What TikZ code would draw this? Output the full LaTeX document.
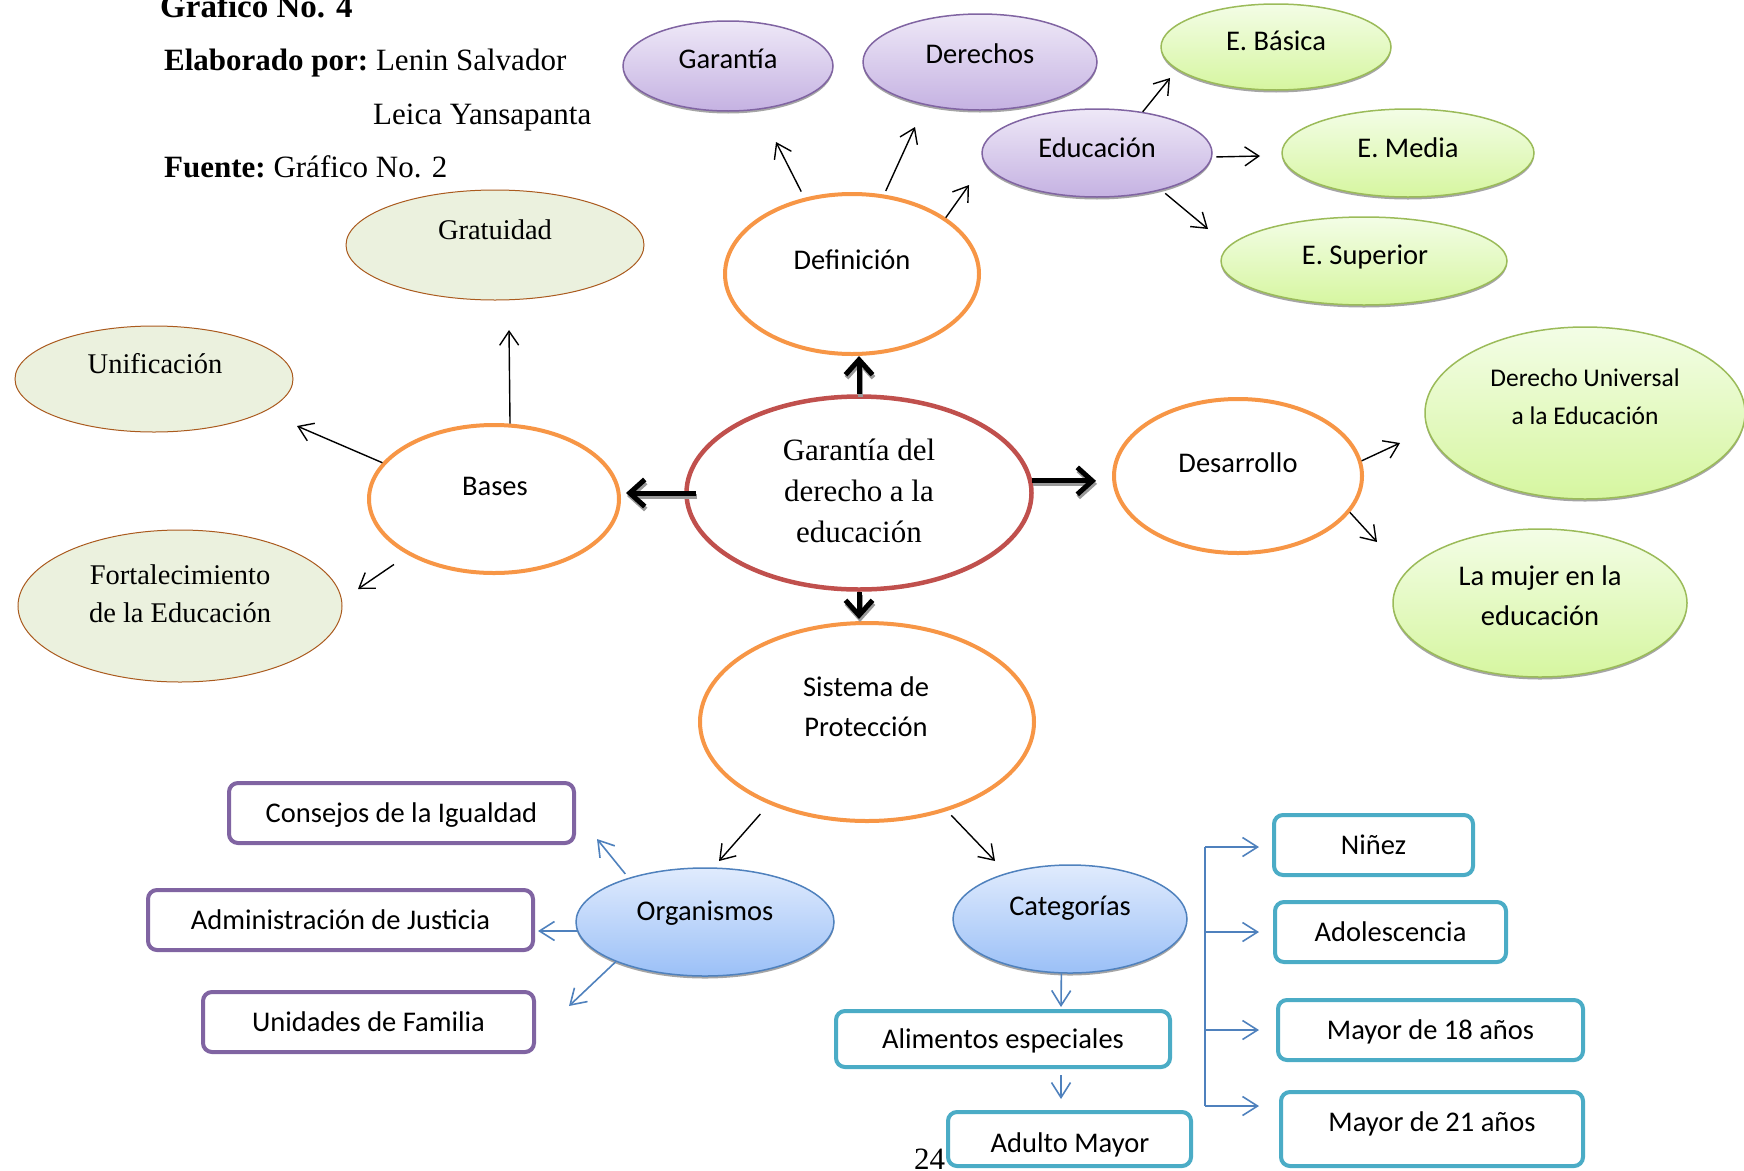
\documentclass[tikz,border=0pt]{standalone}
\usepackage{fontspec}
\setmainfont{Liberation Serif}
\newfontfamily\calfont{Carlito}
\usetikzlibrary{shapes.geometric,arrows.meta,shadows,calc}
\definecolor{orng}{RGB}{247,150,70}
\definecolor{redb}{RGB}{192,80,77}
\definecolor{purb}{RGB}{128,100,162}
\definecolor{greenb}{RGB}{155,187,89}
\definecolor{blueb}{RGB}{79,129,189}
\definecolor{tealb}{RGB}{75,172,198}
\definecolor{brownb}{RGB}{170,90,30}
\definecolor{lgfill}{RGB}{235,241,222}
\definecolor{purtop}{RGB}{238,232,247}
\definecolor{purbot}{RGB}{197,178,226}
\definecolor{grtop}{RGB}{243,253,230}
\definecolor{grbot}{RGB}{214,246,160}
\definecolor{bltop}{RGB}{224,235,253}
\definecolor{blbot}{RGB}{155,192,247}
\begin{document}
\begin{tikzpicture}[x=1pt,y=-1pt,
  ell/.style={ellipse,inner sep=0pt},
  shad/.style={drop shadow={shadow xshift=0pt,shadow yshift=-2.5pt,opacity=0.5,fill=black!70}},
  purell/.style={ell,draw=purb,line width=1.5pt,top color=purtop,bottom color=purbot,shad},
  grell/.style={ell,draw=greenb,line width=1.5pt,top color=grtop,bottom color=grbot,shad},
  blell/.style={ell,draw=blueb,line width=1.5pt,top color=bltop,bottom color=blbot,shad},
  lgell/.style={ell,draw=brownb,line width=1pt,fill=lgfill},
  orell/.style={ell,draw=orng,line width=4pt,fill=white},
  redell/.style={ell,draw=redb,line width=4.5pt,fill=white},
  lbl/.style={inner sep=0pt,align=center,text height=21pt,text depth=3pt},
  clbl/.style={lbl,font=\calfont\fontsize{28.5}{40}\selectfont},
  tlbl/.style={lbl,font=\fontsize{28.5}{38}\selectfont},
  rbox/.style={rectangle,rounded corners=9pt,line width=4pt,fill=white,inner sep=0pt,
    font=\calfont\fontsize{28.5}{34}\selectfont,text height=21pt,text depth=3pt},
  pbox/.style={rbox,draw=purb},
  tbox/.style={rbox,draw=tealb},
  arr/.style={draw=black,line width=1.4pt,-{Straight Barb[length=14pt,width=19pt]}},
  barr/.style={draw=blueb,line width=1.6pt,-{Straight Barb[length=15pt,width=19pt]}},
  thk/.style={draw=black,line width=5pt,-{Straight Barb[length=15pt,width=27pt]}},
  thksh/.style={draw=black!40,line width=5pt,-{Straight Barb[length=15pt,width=27pt]},
    transform canvas={shift={(1pt,-3pt)}}}
]
\path[use as bounding box] (0,0) rectangle (1744,1170);
\clip (0,0) rectangle (1744,1170);

% header
\node[anchor=base west,inner sep=0pt,font=\bfseries\fontsize{33}{33}\selectfont] (gno) at (160,17) {Gráfico No. 4};
\node[anchor=base west,inner sep=0pt,font=\fontsize{31}{31}\selectfont] (elab) at (164,70) {\textbf{Elaborado por:}~Lenin Salvador};
\node[anchor=base west,inner sep=0pt,font=\fontsize{31}{31}\selectfont] (leica) at (373,124) {Leica Yansapanta};
\node[anchor=base west,inner sep=0pt,font=\fontsize{31}{31}\selectfont] (fuente) at (164,177) {\textbf{Fuente:}~Gráfico No. 2};

% ellipses
\node[purell,minimum width=210pt,minimum height=90pt] (gar) at (728,66) {};
\node[purell,minimum width=234pt,minimum height=96pt] (der) at (980,62) {};
\node[grell,minimum width=230pt,minimum height=86pt] (eba) at (1276,47) {};
\node[purell,minimum width=230pt,minimum height=88pt] (edu) at (1097,153) {};
\node[grell,minimum width=252pt,minimum height=88pt] (eme) at (1408,153) {};
\node[grell,minimum width=286pt,minimum height=88pt] (esu) at (1364,261) {};
\node[orell,minimum width=254pt,minimum height=160pt] (def) at (852,274) {};
\node[lgell,minimum width=298pt,minimum height=110pt] (grat) at (495,245) {};
\node[lgell,minimum width=278pt,minimum height=106pt] (unif) at (154,379) {};
\node[orell,minimum width=250pt,minimum height=148pt] (bases) at (494,499) {};
\node[lgell,minimum width=324pt,minimum height=152pt] (fort) at (180,606) {};
\node[redell,minimum width=345pt,minimum height=193pt] (gd) at (859,493) {};
\node[orell,minimum width=248pt,minimum height=154pt] (des) at (1238,476) {};
\node[grell,minimum width=320pt,minimum height=172pt] (du) at (1585,413) {};
\node[grell,minimum width=294pt,minimum height=148pt] (muj) at (1540,603) {};
\node[orell,minimum width=334pt,minimum height=198pt] (sis) at (867,722) {};
\node[blell,minimum width=258pt,minimum height=108pt] (org) at (705,922) {};
\node[blell,minimum width=234pt,minimum height=108pt] (cat) at (1070,919) {};

% ellipse texts (multi-line nodes are placed at their last line)
\node[clbl] (gar-t) at (728,59) {Garantía};
\node[clbl] (der-t) at (980,54) {Derechos};
\node[clbl] (eba-t) at (1276,41) {E. Básica};
\node[clbl] (edu-t) at (1097,148) {Educación};
\node[clbl] (eme-t) at (1408,148) {E. Media};
\node[clbl] (esu-t) at (1365,255) {E. Superior};
\node[clbl] (def-t) at (852,260) {Definición};
\node[tlbl] (grat-t) at (495,230) {Gratuidad};
\node[tlbl] (unif-t) at (155,364) {Unificación};
\node[clbl] (bases-t) at (495,486) {Bases};
\node[tlbl] (fort-t) at (180,613) {Fortalecimiento\\de la Educación};
\node[lbl,font=\fontsize{31}{41}\selectfont,text height=23pt,text depth=3pt] (gd-t) at (859,532) {Garantía del\\derecho a la\\educación};
\node[clbl] (des-t) at (1238,463) {Desarrollo};
\node[lbl,font=\calfont\fontsize{25.5}{37.5}\selectfont,text height=19pt,text depth=3pt] (du-t) at (1585,416) {Derecho Universal\\a la Educación};
\node[clbl] (muj-t) at (1540,616) {La mujer en la\\educación};
\node[clbl] (sis-t) at (866,727) {Sistema de\\Protección};
\node[clbl] (org-t) at (705,911) {Organismos};
\node[clbl] (cat-t) at (1070,906) {Categorías};

% boxes
\node[pbox,minimum width=345pt,minimum height=60pt] (con) at (401.5,813) {Consejos de la Igualdad};
\node[pbox,minimum width=385pt,minimum height=60pt] (adm) at (340.5,920) {Administración de Justicia};
\node[pbox,minimum width=331pt,minimum height=60pt] (uni) at (368.5,1022) {Unidades de Familia};
\node[tbox,minimum width=334pt,minimum height=56pt] (ali) at (1003,1039) {Alimentos especiales};
\node[anchor=base west,inner sep=0pt,font=\fontsize{31}{31}\selectfont] (pg) at (914,1169) {24};
\node[tbox,minimum width=243pt,minimum height=54pt] (adu) at (1069.5,1139) {};
\node[clbl] (adu-t) at (1070,1143) {Adulto Mayor};
\node[tbox,minimum width=199pt,minimum height=60pt] (nin) at (1373.5,845) {Niñez};
\node[tbox,minimum width=231pt,minimum height=60pt] (ado) at (1390.5,932) {Adolescencia};
\node[tbox,minimum width=305pt,minimum height=60pt] (m18) at (1430.5,1030) {Mayor de 18 años};
\node[tbox,minimum width=302pt,minimum height=74pt] (m21) at (1432,1129) {};
\node[clbl] (m21-t) at (1432,1122) {Mayor de 21 años};

% arrow tip coordinates
\coordinate (tgar) at (776,142);
\coordinate (tder) at (915,127);
\coordinate (tedu) at (969,185);
\coordinate (teba) at (1170,78);
\coordinate (teme) at (1260,156);
\coordinate (tesu) at (1208,229);
\coordinate (tgrat) at (509,330);
\coordinate (tunif) at (297,426);
\coordinate (tfort) at (358,589);
\coordinate (tdu) at (1400,443);
\coordinate (tmuj) at (1377,542);
\coordinate (torg) at (719,861);
\coordinate (tcat) at (995,861);
\coordinate (tcon) at (597,839);
\coordinate (tadm) at (538,931);
\coordinate (tuni) at (569,1006);
\coordinate (tali) at (1061,1007);
\coordinate (tadu) at (1061,1099);
\coordinate (brtop) at (1205,847);
\coordinate (brbot) at (1205,1106);
\coordinate (t21) at (1259,1106);

% thin black arrows
\draw[arr,shorten <=7pt] (def.122) -- (tgar);
\draw[arr,shorten <=4pt] (def.68) -- (tder);
\draw[arr] (def.31) -- (tedu);
\draw[arr] (edu.42) -- (teba);
\draw[arr,shorten <=4pt] (edu.-2) -- (teme);
\draw[arr,shorten <=5pt] (edu.-30) -- (tesu);
\draw[arr] (bases.78) -- (tgrat);
\draw[arr] (bases.162) -- (tunif);
\draw[arr,shorten <=17pt] (bases.-147) -- (tfort);
\draw[arr] (des.7) -- (tdu);
\draw[arr] (des.-18) -- (tmuj);
\draw[arr,shorten <=13pt] (sis.-140) -- (torg);
\draw[arr,shorten <=6pt] (sis.-48) -- (tcat);

% thick arrows
\draw[thksh] (gd.north) -- (gd.north |- def.south);
\draw[thk] (gd.north) -- (gd.north |- def.south);
\draw[thksh,shorten <=-12pt,shorten >=5pt] (gd.west) -- (gd.west -| bases.east);
\draw[thk,shorten <=-12pt,shorten >=5pt] (gd.west) -- (gd.west -| bases.east);
\draw[thksh,shorten >=16pt] (gd.4) -- (gd.4 -| des.west);
\draw[thk,shorten >=16pt] (gd.4) -- (gd.4 -| des.west);
\draw[thksh,shorten >=2pt] (gd.south) -- (gd.south |- sis.north);
\draw[thk,shorten >=2pt] (gd.south) -- (gd.south |- sis.north);

% blue arrows
\draw[barr,shorten <=5pt] (org.150) -- (tcon);
\draw[barr] (org.-176) -- (tadm);
\draw[barr] (org.-156) -- (tuni);
\draw[barr] (cat.-99) -- (tali);
\draw[barr,shorten <=6pt] (ali.south -| tali) -- (tadu);
\draw[draw=blueb,line width=1.6pt] (brtop) -- (brbot);
\draw[barr,shorten >=13pt] (brtop) -- (brtop -| nin.west);
\draw[barr,shorten >=14pt] (brtop |- ado.west) -- (ado.west);
\draw[barr,shorten >=17pt] (brtop |- m18.west) -- (m18.west);
\draw[barr] (brbot) -- (t21);
\end{tikzpicture}
\end{document}
